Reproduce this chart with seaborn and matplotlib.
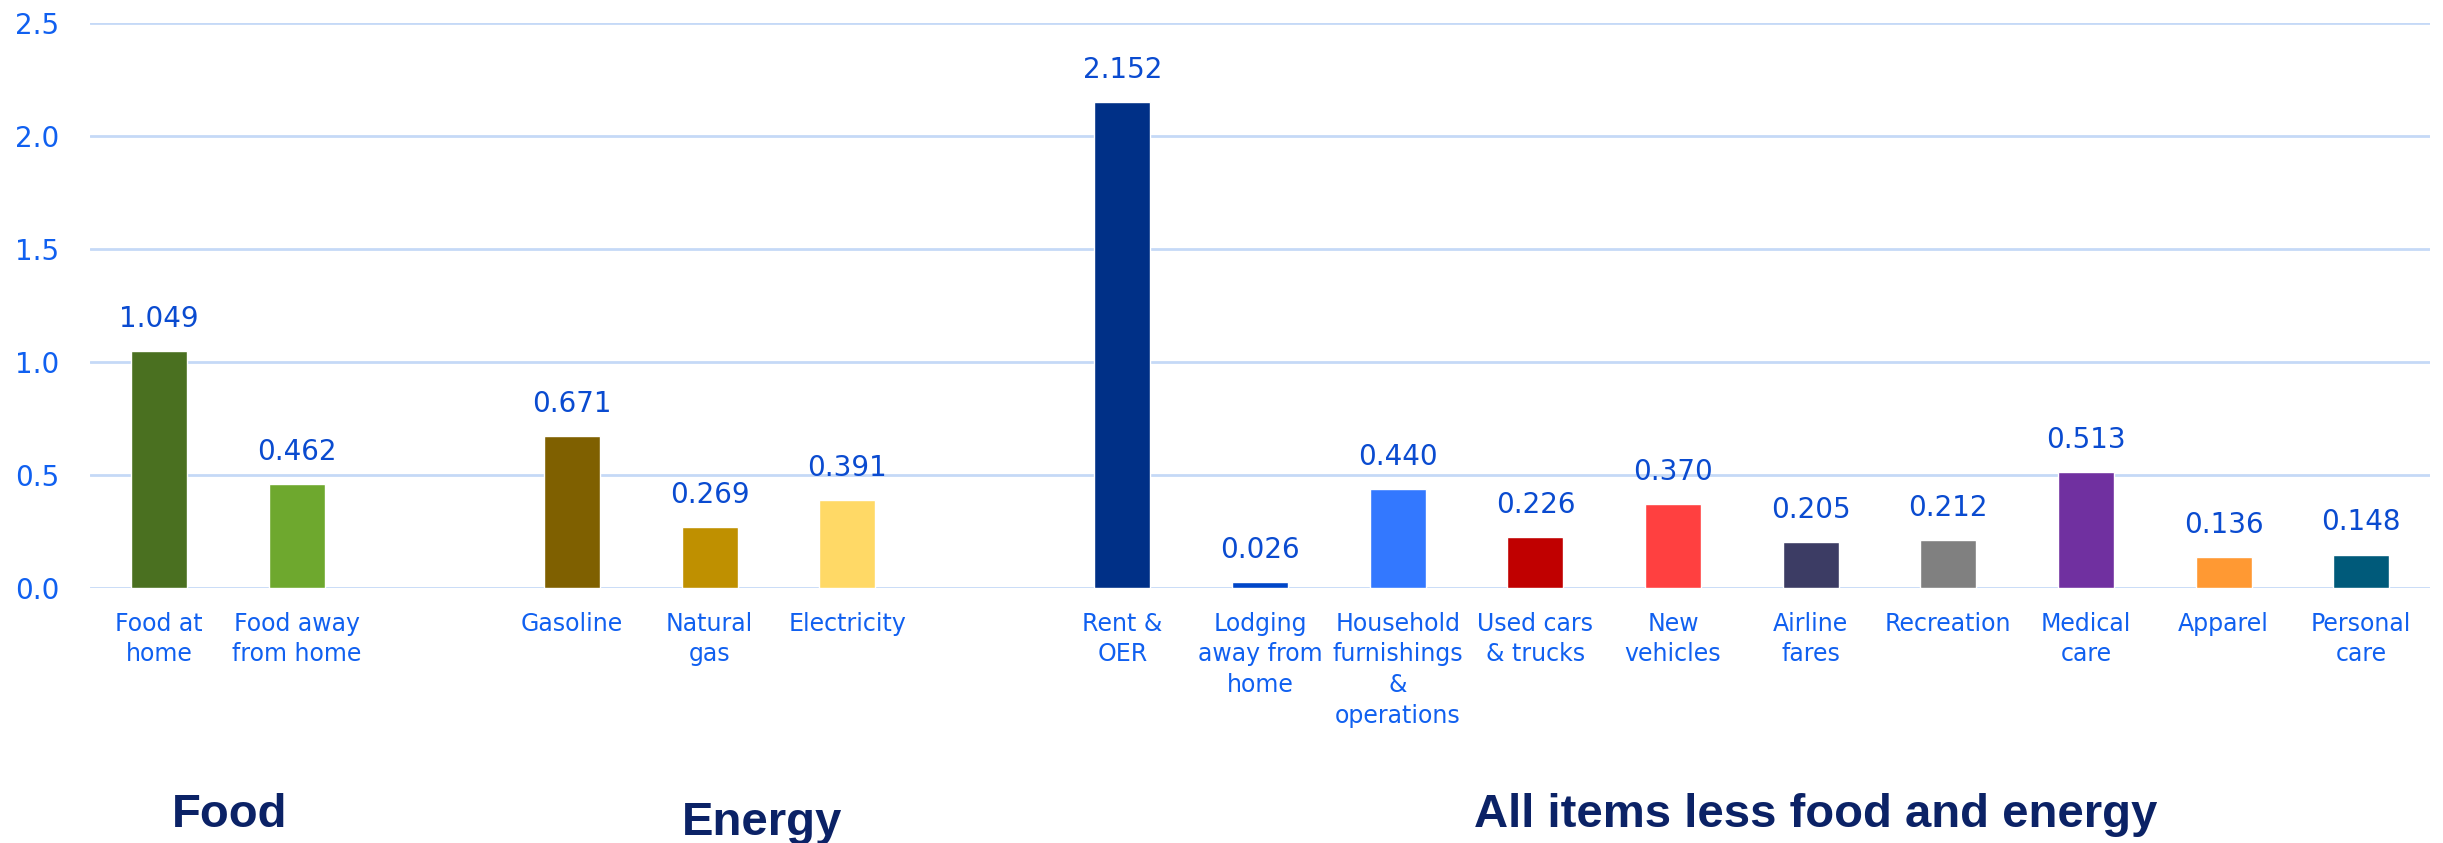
import pandas as pd
import numpy as np
import matplotlib.pyplot as plt
import seaborn as sns

# Contributions by component (percentage points)
items = ['Food at home', 'Food away from home', 'gap1',
         'Gasoline', 'Natural gas', 'Electricity', 'gap2',
         'Rent & OER', 'Lodging away from home', 'Household furnishings & operations',
         'Used cars & trucks', 'New vehicles', 'Airline fares', 'Recreation',
         'Medical care', 'Apparel', 'Personal care']
values = [1.049, 0.462, np.nan,
          0.671, 0.269, 0.391, np.nan,
          2.152, 0.026, 0.440, 0.226, 0.370, 0.205, 0.212, 0.513, 0.136, 0.148]
tick_labels = ['Food at\nhome', 'Food away\nfrom home', '',
               'Gasoline', 'Natural\ngas', 'Electricity', '',
               'Rent &\nOER', 'Lodging\naway from\nhome', 'Household\nfurnishings\n&\noperations',
               'Used cars\n& trucks', 'New\nvehicles', 'Airline\nfares', 'Recreation',
               'Medical\ncare', 'Apparel', 'Personal\ncare']
bar_colors = ['#4A7020', '#6EA82E', '#FFFFFF',
              '#7F6000', '#BF9000', '#FFD966', '#FFFFFF',
              '#003087', '#0046C8', '#3378FF', '#C00000', '#FF4040',
              '#3C3C64', '#808080', '#7030A0', '#FF9933', '#005A7A']
groups = ['Food', 'Energy', 'All items less food and energy']

df = pd.DataFrame({'item': items, 'value': values})
plot_df = df.dropna()
palette = dict(zip(items, bar_colors))

tick_color = '#1060F0'
value_color = '#0A4BD0'
title_color = '#0B2266'
grid_color = '#C5D9F7'

sns.set_style('white')
plt.rcParams['font.family'] = ['DejaVu Sans']

fig = plt.figure(figsize=(24.43, 8.43), dpi=100)
ax = fig.add_axes([0.0369, 0.3025, 0.9578, 0.6702])

sns.barplot(data=plot_df, x='item', y='value', order=items, hue='item',
            palette=palette, legend=False, width=0.407, saturation=1, ax=ax)

ax.set_ylim(0, 2.5)
ax.set_xlim(-0.5, len(items) - 0.5)
ax.set_yticks([0, 0.5, 1.0, 1.5, 2.0, 2.5])
ax.set_yticklabels(['0.0', '0.5', '1.0', '1.5', '2.0', '2.5'])
ax.yaxis.grid(True, color=grid_color, linewidth=2)
ax.set_axisbelow(True)
for s in ax.spines.values():
    s.set_visible(False)
ax.set_xticks(range(len(items)))
ax.set_xticklabels(tick_labels, fontsize=17, color=tick_color, linespacing=1.35, va='top')
ax.tick_params(axis='x', length=0, pad=17)
ax.tick_params(axis='y', length=0, pad=22, labelsize=20, labelcolor=tick_color)
ax.set_xlabel('')
ax.set_ylabel('')

# value labels above bars
for i, v in enumerate(values):
    if not np.isnan(v):
        ax.annotate(f'{v:.3f}', xy=(i, v), xytext=(0, 13), textcoords='offset points',
                    ha='center', va='bottom', fontsize=20, color=value_color)

# group titles
title_x = [0.094, 0.312, 0.743]
title_y = [0.019, 0.0095, 0.019]
for g, gx, gy in zip(groups, title_x, title_y):
    fig.text(gx, gy, g, ha='center', va='baseline', fontsize=34, fontweight='bold',
             color=title_color, family=['Liberation Sans', 'DejaVu Sans'])

fig.savefig('out.png', dpi=100)
